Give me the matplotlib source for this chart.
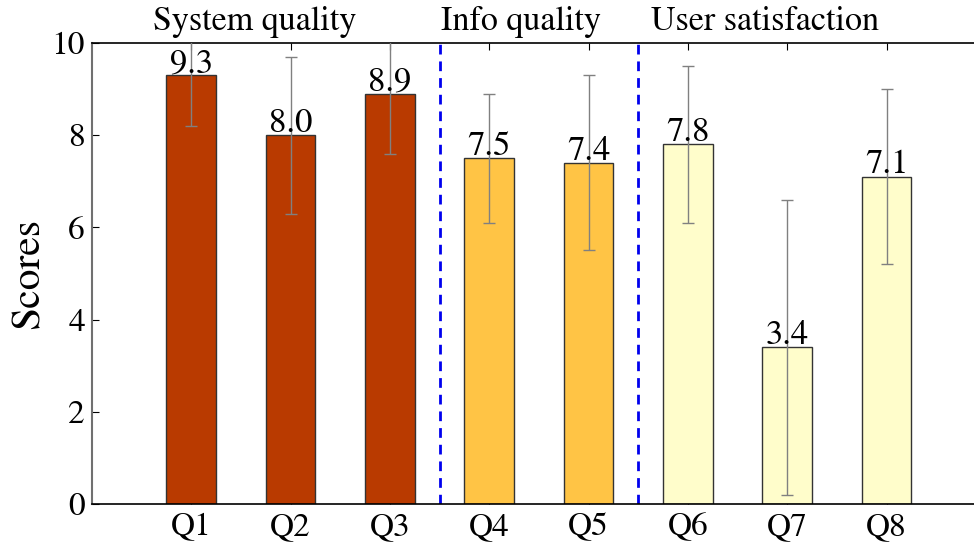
import matplotlib
matplotlib.use('Agg')
import matplotlib.pyplot as plt
import numpy as np

questions = ['Q1', 'Q2', 'Q3', 'Q4', 'Q5', 'Q6', 'Q7', 'Q8']
scores = [9.3, 8.0, 8.9, 7.5, 7.4, 7.8, 3.4, 7.1]
errors = [1.1, 1.7, 1.3, 1.4, 1.9, 1.7, 3.2, 1.9]
bar_colors = ['#B93A00'] * 3 + ['#FFC445'] * 2 + ['#FFFDCB'] * 3
groups = ['System quality', 'Info quality', 'User satisfaction']
group_x = [-0.39, 2.51, 4.63]
dividers = [2.5, 4.5]

plt.rcParams['font.family'] = ['STIXGeneral', 'DejaVu Serif']
plt.rcParams['font.size'] = 24

fig = plt.figure(figsize=(9.74, 5.42), dpi=100)
ax = fig.add_axes([92 / 974, 38 / 542, 1 - 92 / 974, 461 / 542])

x = np.arange(len(questions))
ax.bar(x, scores, width=0.5, color=bar_colors, edgecolor='#333333', linewidth=1.0, zorder=2)
ax.errorbar(x, scores, yerr=errors, fmt='none', ecolor='#808080', elinewidth=1.0,
            capsize=4, capthick=1.0, zorder=3)

# value labels sit right on top of each bar
for xi, s in zip(x, scores):
    ax.text(xi, s + 0.07, f'{s:.1f}', ha='center', va='baseline', fontsize=25, zorder=4)

for d in dividers:
    ax.axvline(d, color='#0000ee', linestyle=(0, (3.5, 2.5)), linewidth=2, zorder=1)

for g, gx in zip(groups, group_x):
    ax.text(gx, 1.028, g, transform=ax.get_xaxis_transform(), ha='left', va='baseline', fontsize=24.5)

ax.set_xlim(-1, 7.88)
ax.set_ylim(0, 10)
ax.set_xticks(x)
ax.set_xticklabels(questions)
ax.set_yticks(np.arange(0, 11, 2))
ax.set_ylabel('Scores', fontsize=30, labelpad=3)

ax.tick_params(axis='x', direction='in', top=True, bottom=True, length=5, pad=6, labelsize=24)
ax.tick_params(axis='y', direction='in', left=True, right=False, length=5, pad=5, labelsize=24)
ax.spines['right'].set_visible(False)
ax.spines['left'].set_color('#707070')
ax.spines['left'].set_linewidth(1.5)
ax.spines['top'].set_linewidth(1.2)
ax.spines['bottom'].set_linewidth(1.2)

fig.savefig('out.png', dpi=100)
